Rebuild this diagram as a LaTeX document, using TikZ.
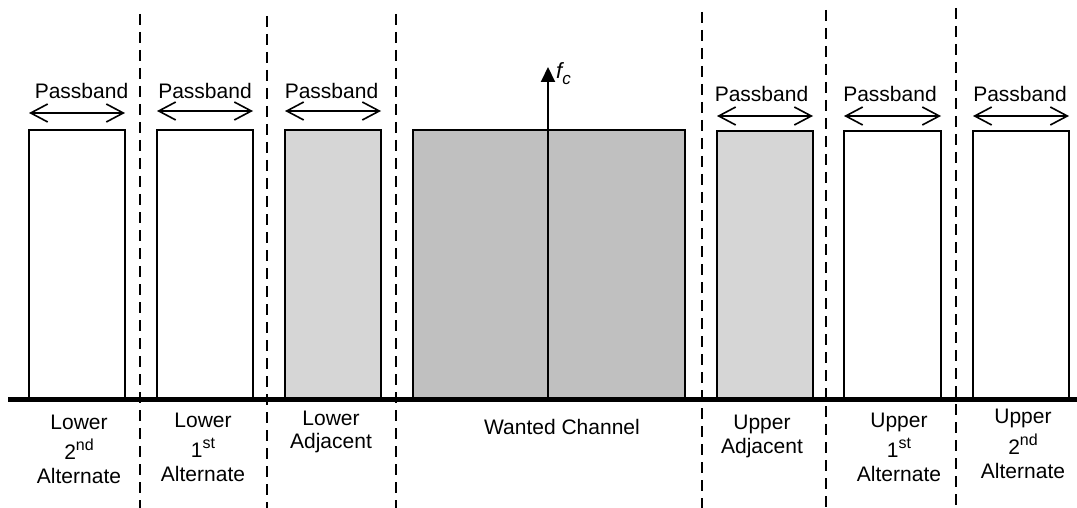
\documentclass[tikz,border=0pt]{standalone}
\usepackage{fontspec}
\setmainfont{Liberation Sans}
\usetikzlibrary{arrows.meta}
\definecolor{adjgray}{HTML}{D6D6D6}
\definecolor{wantgray}{HTML}{C0C0C0}
\newcommand\supx[1]{\raisebox{9pt}{\fontsize{16}{16}\selectfont #1}}
\begin{document}
\begin{tikzpicture}[x=1pt,y=-1pt,
  box/.style={draw, line width=2pt, minimum height=268pt, inner sep=0pt, outer sep=0pt, anchor=north west},
  pb/.style={{Straight Barb[length=17pt,width=18pt]}-{Straight Barb[length=17pt,width=18pt]}, line width=1.6pt},
  pbtext/.style={font=\fontsize{21}{24}\selectfont, anchor=base, inner sep=0pt},
  lbl/.style={font=\fontsize{21}{24}\selectfont, align=center, anchor=base, inner sep=0pt},
  sep/.style={line width=2.5pt, dash pattern=on 11pt off 7pt},
  fcarrow/.style={-{Triangle[length=15pt,width=14pt]}, line width=2pt}
]
\useasboundingbox (0,0) rectangle (1077,508);

% separators
\coordinate (s1t) at (140,14); \coordinate (s1b) at (140,508);
\coordinate (s2t) at (267,16); \coordinate (s2b) at (267,508);
\coordinate (s3t) at (396,14); \coordinate (s3b) at (396,508);
\coordinate (s4t) at (702,12); \coordinate (s4b) at (702,508);
\coordinate (s5t) at (826,10); \coordinate (s5b) at (826,508);
\coordinate (s6t) at (956,8);  \coordinate (s6b) at (956,508);
\foreach \i in {1,...,6} \draw[sep] (s\i t) -- (s\i b);

% channel boxes
\node[box, minimum width=96pt] (b1) at (29,130) {};
\node[box, minimum width=96pt] (b2) at (157,130) {};
\node[box, minimum width=96pt, fill=adjgray] (b3) at (285,130) {};
\node[box, minimum width=272pt, fill=wantgray] (w) at (413,130) {};
\node[box, minimum width=96pt, minimum height=267pt, fill=adjgray] (b5) at (717,131) {};
\node[box, minimum width=97pt, minimum height=267pt] (b6) at (844,131) {};
\node[box, minimum width=96pt, minimum height=267pt] (b7) at (973,131) {};

% frequency axis
\coordinate (axL) at (8,399);
\coordinate (axR) at (1077,399);
\draw[line width=5pt] (axL) -- (axR);

% fc marker
\coordinate (fctip) at (548,67);
\draw[fcarrow] (fctip |- axL) -- (fctip);
\node[font=\fontsize{22}{24}\selectfont\itshape, anchor=base west, inner sep=0pt] (fc) at (556,79) {f\raisebox{-6pt}{\fontsize{17}{17}\selectfont c}};

% passband arrows and texts
\draw[pb] ([yshift=17pt]b1.north west) -- ([yshift=17pt]b1.north east);
\draw[pb] ([yshift=19pt]b2.north west) -- ([yshift=19pt]b2.north east);
\draw[pb] ([yshift=19pt]b3.north west) -- ([yshift=19pt]b3.north east);
\draw[pb] ([yshift=15pt]b5.north west) -- ([yshift=15pt]b5.north east);
\draw[pb] ([yshift=15pt]b6.north west) -- ([yshift=15pt]b6.north east);
\draw[pb] ([yshift=15pt]b7.north west) -- ([yshift=15pt]b7.north east);
\node[pbtext] (p1) at (81.5,99) {Passband};
\node[pbtext] (p2) at (205,99) {Passband};
\node[pbtext] (p3) at (331.5,99) {Passband};
\node[pbtext] (p5) at (761.5,102) {Passband};
\node[pbtext] (p6) at (890,102) {Passband};
\node[pbtext] (p7) at (1020,102) {Passband};

% channel labels (base anchor = last line baseline)
\node[lbl] (l1) at (79,483) {Lower\\[6pt]2\supx{nd}\\Alternate};
\node[lbl] (l2) at (203,481) {Lower\\[6pt]1\supx{st}\\Alternate};
\node[lbl] (l3) at (331,448) {Lower\\[-1pt]Adjacent};
\node[lbl] (l4) at (562,434) {Wanted Channel};
\node[lbl] (l5) at (762,453) {Upper\\Adjacent};
\node[lbl] (l6) at (899,481) {Upper\\[6pt]1\supx{st}\\Alternate};
\node[lbl] (l7) at (1023,478) {Upper\\[5pt]2\supx{nd}\\Alternate};
\end{tikzpicture}
\end{document}
